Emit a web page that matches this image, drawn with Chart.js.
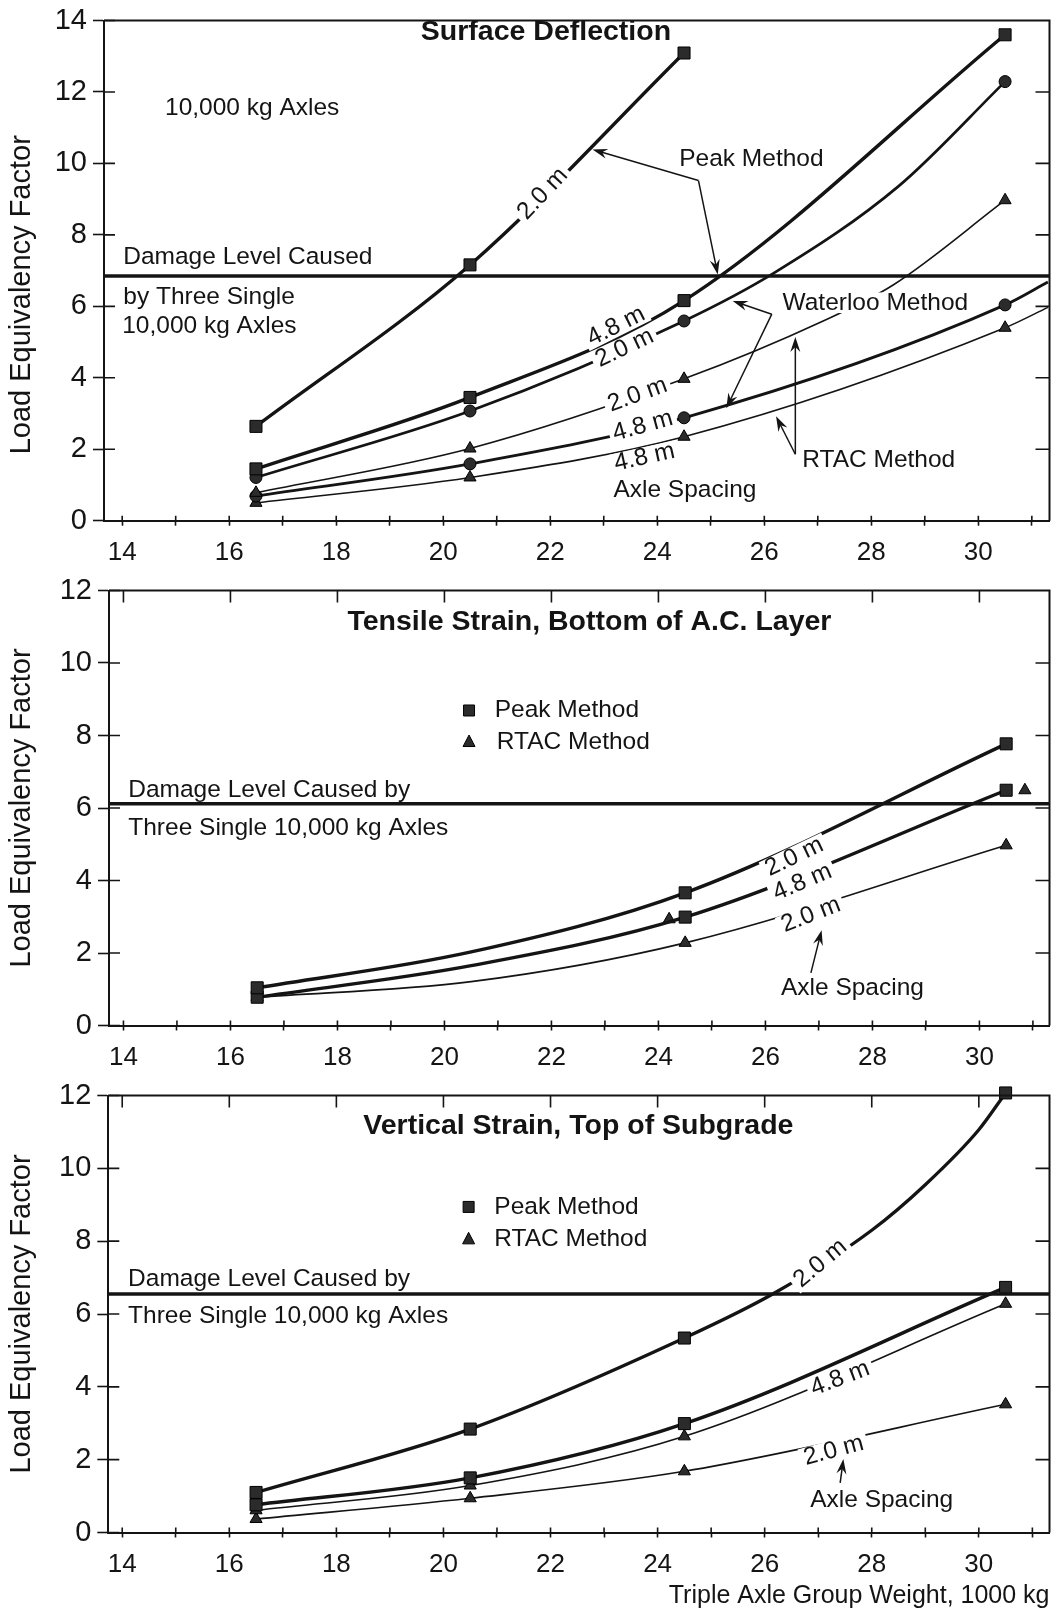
<!DOCTYPE html>
<html>
<head>
<meta charset="utf-8">
<title>Load Equivalency Factors, Triple Axle Groups</title>
<script src="https://cdn.jsdelivr.net/npm/chart.js@4.4.1/dist/chart.umd.min.js"></script>
<style>
  html, body { margin: 0; padding: 0; background: #fff; }
  #page { position: relative; width: 1059px; height: 1624px; overflow: hidden; background: #fff; }
  canvas { position: absolute; left: 0; }
</style>
</head>
<body>
<div id="page">
  <canvas id="surface-chart" width="1059" height="570" style="top:0px"></canvas>
  <canvas id="tensile-chart" width="1059" height="505" style="top:570px"></canvas>
  <canvas id="vertical-chart" width="1059" height="549" style="top:1075px"></canvas>
</div>
<script>
// triple axle group weights that carry a marker, 1000 kg
const loads = [16.5, 20.5, 24.5, 30.5];
const tensileLoads = [16.5, 24.5, 30.5];

// Surface Deflection (weight along each curve, factor)
const sdPeak20X = [16.5, 20.5, 24.5];
const sdPeak20 = [2.64, 7.16, 13.09];
const sdPeak48X = [16.5, 20.5, 24.5, 30.5];
const sdPeak48 = [1.45, 3.45, 6.16, 13.6];
const sdWaterloo20X = [16.5, 20.5, 24.5, 26.2, 28.5, 30.5];
const sdWaterloo20 = [1.21, 3.07, 5.59, 6.95, 9.35, 12.29];
const sdRtac20X = [16.5, 20.5, 24.5, 27.1, 28.4, 30.5];
const sdRtac20 = [0.78, 2.02, 3.97, 5.59, 6.59, 8.97];
const sdWaterloo48X = [16.5, 20.5, 24.5, 30.5, 31.3];
const sdWaterloo48 = [0.69, 1.59, 2.88, 6.04, 6.68];
const sdRtac48X = [16.5, 20.5, 24.5, 30.5, 31.3];
const sdRtac48 = [0.5, 1.21, 2.35, 5.4, 5.97];
const sdDamage = 6.85;

// Tensile Strain, Bottom of A.C. Layer
const tsPeak20X = [16.5, 20.5, 24.5, 30.5];
const tsPeak20 = [1.04, 2.03, 3.66, 7.77];
const tsPeak48X = [16.5, 20.5, 24.5, 30.5];
const tsPeak48 = [0.78, 1.65, 2.99, 6.49];
const tsRtac20X = [16.5, 20.5, 24.5, 30.5];
const tsRtac20 = [0.78, 1.21, 2.28, 4.97];
const tsRtac48X = [24.2, 30.85];
const tsRtac48 = [2.93, 6.49];
const tsDamage = 6.12;

// Vertical Strain, Top of Subgrade
const vsPeak20X = [16.5, 20.5, 24.5, 26.2, 28.0, 29.0, 30.0, 30.5];
const vsPeak20 = [1.1, 2.84, 5.34, 6.59, 8.3, 9.55, 11.06, 12.07];
const vsPeak48X = [16.5, 20.5, 24.5, 30.5];
const vsPeak48 = [0.76, 1.5, 2.99, 6.73];
const vsRtac48X = [16.5, 20.5, 24.5, 30.5];
const vsRtac48 = [0.61, 1.29, 2.64, 6.28];
const vsRtac20X = [16.5, 20.5, 24.5, 30.5];
const vsRtac20 = [0.37, 0.94, 1.68, 3.52];
const vsDamage = 6.55;

const INK = '#141414';
const FONT = '"Liberation Sans", Arial, Helvetica, sans-serif';

function pts(xs, ys) {
  return ys.map((y, i) => ({x: xs[i], y: y}));
}

function curve(xs, ys, marked, width, marker, size) {
  return {
    data: pts(xs, ys),
    borderColor: INK,
    borderWidth: width,
    cubicInterpolationMode: 'monotone',
    clip: false,
    pointStyle: marker,
    pointRadius: xs.map(x => (marked.includes(x) ? size : 0)),
    pointBackgroundColor: '#2b2b2b',
    pointBorderColor: '#000',
    pointBorderWidth: 1,
    fill: false
  };
}

function levelLine(value, range) {
  return {
    data: [{x: range[0], y: value}, {x: range[1], y: value}],
    borderColor: INK,
    borderWidth: 3.5,
    pointRadius: 0,
    fill: false
  };
}

function framePlugin(topTicks) {
  return {
    id: 'frame',
    afterDraw(chart) {
      const {ctx, chartArea: a, scales: {x, y}} = chart;
      ctx.save();
      ctx.strokeStyle = INK;
      ctx.lineWidth = 2;
      ctx.beginPath();
      ctx.moveTo(a.left, a.top);
      ctx.lineTo(a.right, a.top);
      ctx.lineTo(a.right, a.bottom);
      ctx.stroke();
      ctx.lineWidth = 1.6;
      ctx.beginPath();
      y.ticks.forEach(t => {
        const py = y.getPixelForValue(t.value);
        ctx.moveTo(a.left, py);
        ctx.lineTo(a.left + 11, py);
        if (t.value > y.min && t.value < y.max) {
          ctx.moveTo(a.right - 14, py);
          ctx.lineTo(a.right, py);
        }
      });
      x.ticks.forEach(t => {
        const px = x.getPixelForValue(t.value);
        ctx.moveTo(px, a.bottom);
        ctx.lineTo(px, a.bottom - 5);
        if (topTicks && t.value % 2 === 0) {
          ctx.moveTo(px, a.top);
          ctx.lineTo(px, a.top + 12);
        }
      });
      ctx.stroke();
      ctx.restore();
    }
  };
}

function arrow(ctx, x0, y0, x1, y1) {
  const a = Math.atan2(y1 - y0, x1 - x0);
  const c = Math.cos(a), s = Math.sin(a);
  ctx.beginPath();
  ctx.moveTo(x0, y0);
  ctx.lineTo(x1 - 8 * c, y1 - 8 * s);
  ctx.stroke();
  ctx.beginPath();
  ctx.moveTo(x1, y1);
  ctx.lineTo(x1 - 15 * c - 5 * s, y1 - 15 * s + 5 * c);
  ctx.lineTo(x1 - 10 * c, y1 - 10 * s);
  ctx.lineTo(x1 - 15 * c + 5 * s, y1 - 15 * s - 5 * c);
  ctx.closePath();
  ctx.fill();
}

function notesPlugin(notes) {
  return {
    id: 'notes',
    afterDatasetsDraw(chart) {
      const {ctx, scales: {x, y}} = chart;
      ctx.save();
      (notes.labels || []).forEach(n => {
        const size = n.size || 24.5;
        ctx.font = (n.bold ? 'bold ' : '') + size + 'px ' + FONT;
        const w = ctx.measureText(n.text).width;
        ctx.save();
        ctx.translate(x.getPixelForValue(n.x), y.getPixelForValue(n.y));
        ctx.rotate((n.angle || 0) * Math.PI / 180);
        const x0 = n.align === 'left' ? 0 : -w / 2;
        if (n.box) {
          ctx.fillStyle = '#fff';
          ctx.fillRect(x0 - 4, -size * 0.42, w + 8, size * 0.84);
        }
        ctx.fillStyle = INK;
        ctx.textAlign = 'left';
        ctx.textBaseline = 'middle';
        ctx.fillText(n.text, x0, 0);
        ctx.restore();
      });
      // legend symbols
      ctx.fillStyle = '#2b2b2b';
      ctx.strokeStyle = '#000';
      ctx.lineWidth = 1;
      (notes.symbols || []).forEach(m => {
        const px = x.getPixelForValue(m.x), py = y.getPixelForValue(m.y);
        ctx.beginPath();
        if (m.style === 'rect') {
          ctx.rect(px - 5.5, py - 5.5, 11, 11);
        } else {
          ctx.moveTo(px, py - 7);
          ctx.lineTo(px + 6, py + 4.5);
          ctx.lineTo(px - 6, py + 4.5);
          ctx.closePath();
        }
        ctx.fill();
        ctx.stroke();
      });
      ctx.fillStyle = INK;
      ctx.strokeStyle = INK;
      ctx.lineWidth = 1.5;
      (notes.arrows || []).forEach(r => {
        arrow(ctx, x.getPixelForValue(r[0]), y.getPixelForValue(r[1]),
          x.getPixelForValue(r[2]), y.getPixelForValue(r[3]));
      });
      ctx.restore();
    }
  };
}

function makePanel(id, g, xRange, yMax, datasets, notes, opts) {
  return new Chart(document.getElementById(id), {
    type: 'line',
    data: {datasets: datasets},
    options: {
      responsive: false,
      animation: false,
      devicePixelRatio: 1,
      layout: {padding: {top: g.top, right: 1059 - g.right, left: 0, bottom: 0}},
      plugins: {legend: {display: false}, tooltip: {enabled: false}},
      scales: {
        x: {
          type: 'linear',
          min: xRange[0],
          max: xRange[1],
          afterFit: s => { s.height = g.height - g.bottom; },
          border: {display: true, color: INK, width: 2},
          grid: {drawOnChartArea: false, tickLength: 5, tickWidth: 1.6, tickColor: INK},
          ticks: {
            stepSize: 1, includeBounds: false, autoSkip: false, maxRotation: 0,
            padding: 12, color: INK, font: {family: FONT, size: 26},
            callback: v => (v % 2 === 0 ? String(v) : '')
          },
          title: opts.xTitle ? {
            display: true, text: opts.xTitle, align: 'end', color: INK,
            font: {family: FONT, size: 25}, padding: {top: 0, bottom: 13}
          } : {display: false}
        },
        y: {
          min: 0,
          max: yMax,
          afterFit: s => { s.width = g.left; },
          border: {display: true, color: INK, width: 2},
          grid: {drawOnChartArea: false, tickLength: 11, tickWidth: 1.6, tickColor: INK},
          ticks: {stepSize: 2, padding: 6, color: INK, font: {family: FONT, size: 29, lineHeight: 1}},
          title: {
            display: true, text: opts.yTitle || 'Load Equivalency Factor', color: INK,
            font: {family: FONT, size: 29}, padding: {top: 5, bottom: 0}
          }
        }
      }
    },
    plugins: [framePlugin(opts.topTicks), notesPlugin(notes)]
  });
}

// ---- Surface Deflection ----
const sdRange = [13.66, 31.33];
makePanel('surface-chart',
  {top: 14.6, left: 104, right: 1053.3, bottom: 520.7, height: 570},
  sdRange, 14,
  [
    levelLine(sdDamage, sdRange),
    curve(sdPeak20X, sdPeak20, loads, 3.3, 'rect', 8.5),
    curve(sdPeak48X, sdPeak48, loads, 3.4, 'rect', 8.5),
    curve(sdWaterloo20X, sdWaterloo20, loads, 2.7, 'circle', 6),
    curve(sdRtac20X, sdRtac20, loads, 1.6, 'triangle', 7),
    curve(sdWaterloo48X, sdWaterloo48, loads, 2.8, 'circle', 6),
    curve(sdRtac48X, sdRtac48, loads, 1.6, 'triangle', 7)
  ],
  {
    labels: [
      {text: 'Surface Deflection', x: 21.92, y: 13.68, bold: true, size: 28.5},
      {text: '10,000 kg Axles', x: 14.8, y: 11.55, align: 'left'},
      {text: 'Damage Level Caused', x: 14.02, y: 7.36, align: 'left'},
      {text: 'by Three Single', x: 14.02, y: 6.26, align: 'left'},
      {text: '10,000 kg Axles', x: 14.0, y: 5.45, align: 'left'},
      {text: 'Peak Method', x: 24.41, y: 10.12, align: 'left'},
      {text: 'Waterloo Method', x: 26.34, y: 6.1, align: 'left', box: true},
      {text: 'RTAC Method', x: 26.71, y: 1.68, align: 'left'},
      {text: 'Axle Spacing', x: 23.18, y: 0.85, align: 'left'},
      {text: '2.0 m', x: 21.86, y: 9.15, angle: -47, box: true},
      {text: '4.8 m', x: 23.23, y: 5.44, angle: -26.6, box: true},
      {text: '2.0 m', x: 23.39, y: 4.83, angle: -25.3, box: true},
      {text: '2.0 m', x: 23.63, y: 3.52, angle: -20, box: true},
      {text: '4.8 m', x: 23.73, y: 2.65, angle: -15.5, box: true},
      {text: '4.8 m', x: 23.76, y: 1.77, angle: -12.5, box: true}
    ],
    arrows: [
      [24.77, 9.52, 22.79, 10.39],
      [24.77, 9.52, 25.13, 6.89],
      [26.14, 5.78, 25.41, 6.15],
      [26.14, 5.78, 25.29, 3.15],
      [26.58, 1.86, 26.58, 5.14],
      [26.58, 1.86, 26.22, 2.92]
    ]
  },
  {topTicks: false, yTitle: 'Load Equivalency Factor      '});

// ---- Tensile Strain ----
const tsRange = [13.73, 31.31];
const tsRtacMarks = curve(tsRtac48X, tsRtac48, tsRtac48X, 0, 'triangle', 7);
tsRtacMarks.showLine = false;
makePanel('tensile-chart',
  {top: 15.7, left: 109, right: 1053, bottom: 455.5, height: 505},
  tsRange, 12,
  [
    levelLine(tsDamage, tsRange),
    curve(tsPeak20X, tsPeak20, tensileLoads, 3.4, 'rect', 8.5),
    curve(tsPeak48X, tsPeak48, tensileLoads, 3.4, 'rect', 8.5),
    curve(tsRtac20X, tsRtac20, tensileLoads, 1.6, 'triangle', 7),
    tsRtacMarks
  ],
  {
    labels: [
      {text: 'Tensile Strain, Bottom of A.C. Layer', x: 22.71, y: 11.13, bold: true, size: 28.5},
      {text: 'Peak Method', x: 20.94, y: 8.69, align: 'left'},
      {text: 'RTAC Method', x: 20.98, y: 7.82, align: 'left'},
      {text: 'Damage Level Caused by', x: 14.09, y: 6.48, align: 'left'},
      {text: 'Three Single 10,000 kg Axles', x: 14.09, y: 5.45, align: 'left'},
      {text: '2.0 m', x: 26.54, y: 4.65, angle: -25.6, box: true},
      {text: '4.8 m', x: 26.69, y: 3.95, angle: -22.8, box: true},
      {text: '2.0 m', x: 26.85, y: 3.05, angle: -21.3, box: true},
      {text: 'Axle Spacing', x: 26.29, y: 1.03, align: 'left'}
    ],
    symbols: [
      {x: 20.46, y: 8.69, style: 'rect'},
      {x: 20.46, y: 7.82, style: 'triangle'}
    ],
    arrows: [
      [26.85, 1.45, 27.05, 2.63]
    ]
  },
  {topTicks: true});

// ---- Vertical Strain ----
const vsRange = [13.74, 31.32];
makePanel('vertical-chart',
  {top: 15.4, left: 108.3, right: 1054, bottom: 457.5, height: 549},
  vsRange, 12,
  [
    levelLine(vsDamage, vsRange),
    curve(vsPeak20X, vsPeak20, loads, 3.3, 'rect', 8.5),
    curve(vsPeak48X, vsPeak48, loads, 3.5, 'rect', 8.5),
    curve(vsRtac48X, vsRtac48, loads, 1.6, 'triangle', 7),
    curve(vsRtac20X, vsRtac20, loads, 1.6, 'triangle', 7)
  ],
  {
    labels: [
      {text: 'Vertical Strain, Top of Subgrade', x: 22.52, y: 11.15, bold: true, size: 28.5},
      {text: 'Peak Method', x: 20.95, y: 8.94, align: 'left'},
      {text: 'RTAC Method', x: 20.95, y: 8.05, align: 'left'},
      {text: 'Damage Level Caused by', x: 14.11, y: 6.96, align: 'left'},
      {text: 'Three Single 10,000 kg Axles', x: 14.11, y: 5.93, align: 'left'},
      {text: '2.0 m', x: 27.04, y: 7.39, angle: -40, box: true},
      {text: '4.8 m', x: 27.41, y: 4.23, angle: -20.8, box: true},
      {text: '2.0 m', x: 27.29, y: 2.25, angle: -15, box: true},
      {text: 'Axle Spacing', x: 26.85, y: 0.89, align: 'left'}
    ],
    symbols: [
      {x: 20.47, y: 8.94, style: 'rect'},
      {x: 20.47, y: 8.05, style: 'triangle'}
    ],
    arrows: [
      [27.41, 1.36, 27.47, 2.02]
    ]
  },
  {topTicks: true, xTitle: 'Triple Axle Group Weight, 1000 kg'});
</script>
</body>
</html>
